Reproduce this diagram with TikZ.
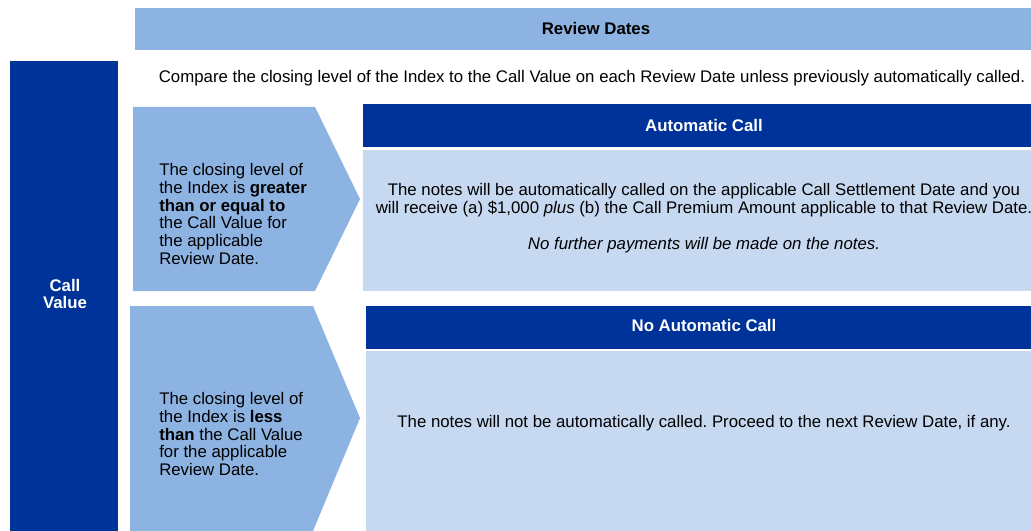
\documentclass[tikz,border=0pt]{standalone}
\usepackage{fontspec}
\setmainfont{Liberation Sans}
\frenchspacing
\definecolor{lightblue}{HTML}{8DB3E2}
\definecolor{darkblue}{HTML}{003399}
\definecolor{paleblue}{HTML}{C6D9F1}
\begin{document}
\begin{tikzpicture}[x=0.75pt,y=-0.75pt,
  txt/.style={font=\fontsize{12.6}{13.4}\selectfont\frenchspacing, inner sep=0pt},
  hdr/.style={txt, font=\fontsize{12.6}{13.4}\selectfont\bfseries, text=white},
  leftTxt/.style={txt, align=left, anchor=west},
  midTxt/.style={txt, align=center}]
\useasboundingbox (0,0) rectangle (1031,531);
% top bar
\fill[lightblue] (135,8) rectangle (1031,50);
\node[txt, font=\fontsize{12.6}{13.4}\selectfont\bfseries] (rd) at (596,28) {Review Dates};
% call value bar
\fill[darkblue] (10,61) rectangle (118,531);
\node[hdr, align=center] (cv) at (65,294) {Call\\Value};
% compare text
\node[txt] (cmp) at (592,78) {Compare the closing level of the Index to the Call Value on each Review Date unless previously automatically called.};
% chevrons
\fill[lightblue] (133,107) -- (315,107) -- (360,199) -- (315,291) -- (133,291) -- cycle;
\node[leftTxt] (c1) at (159,214) {The closing level of\\the Index is \textbf{greater}\\\textbf{than or equal to}\\the Call Value for\\the applicable\\Review Date.};
\fill[lightblue] (130,306) -- (313,306) -- (360,418) -- (313,531) -- (130,531) -- cycle;
\node[leftTxt] (c2) at (159,434) {The closing level of\\the Index is \textbf{less}\\\textbf{than} the Call Value\\for the applicable\\Review Date.};
% automatic call
\fill[darkblue] (363,104) rectangle (1031,147);
\node[hdr] (ac) at (704,125) {Automatic Call};
\fill[paleblue] (363,150) rectangle (1031,291);
\node[midTxt] (acb) at (704,200) {The notes will be automatically called on the applicable Call Settlement Date and you\\will receive (a) \$1,000 \textit{plus} (b) the Call Premium Amount applicable to that Review Date.};
\node[txt] (acn) at (704,245) {\textit{No further payments will be made on the notes.}};
% no automatic call
\fill[darkblue] (366,306) rectangle (1031,349);
\node[hdr] (nac) at (704,325) {No Automatic Call};
\fill[paleblue] (366,351) rectangle (1031,531);
\node[txt] (nacb) at (704,423) {The notes will not be automatically called. Proceed to the next Review Date, if any.};
\end{tikzpicture}
\end{document}
